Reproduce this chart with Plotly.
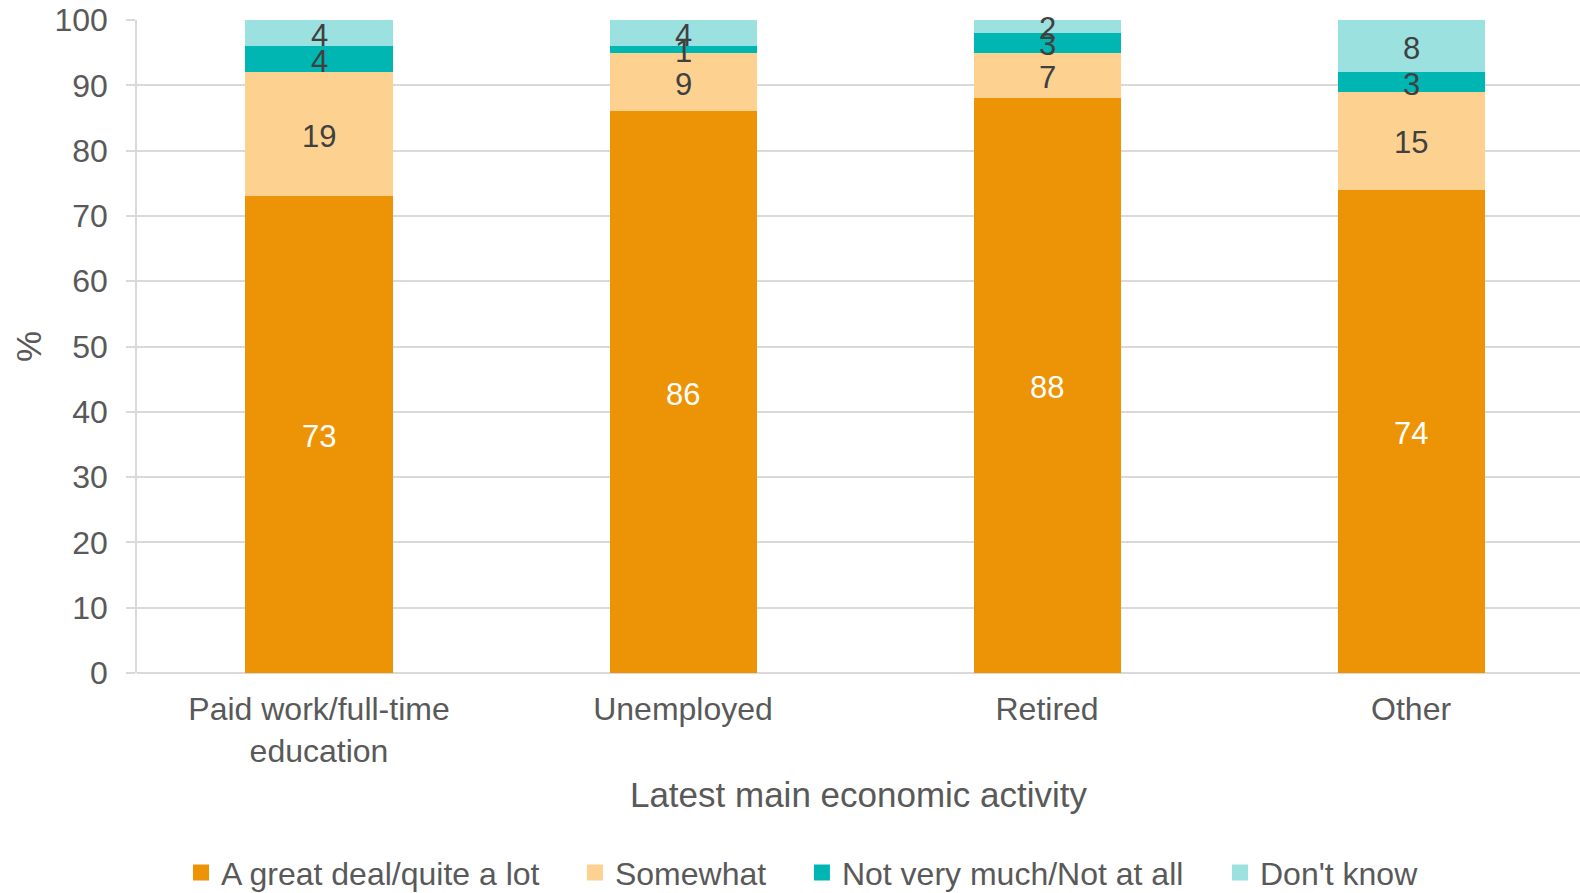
import plotly.graph_objects as go

# Survey responses by latest main economic activity (percent)
categories = ["Paid work/full-time<br>education", "Unemployed", "Retired", "Other"]
great_deal = [73, 86, 88, 74]
somewhat = [19, 9, 7, 15]
not_much = [4, 1, 3, 3]
dont_know = [4, 4, 2, 8]

series = [
    ("A great deal/quite a lot", great_deal, "#ED9306", "#FFFFFF"),
    ("Somewhat", somewhat, "#FDD291", "#404040"),
    ("Not very much/Not at all", not_much, "#00B6B2", "#404040"),
    ("Don't know", dont_know, "#9BE1E0", "#404040"),
]

FONT = "Arial, Liberation Sans, sans-serif"
GREY = "#595959"
GRID = "#D9D9D9"

# one legend per series so the entries can be spaced freely
legend_ids = ["legend", "legend2", "legend3", "legend4"]
legend_x = [0.0305, 0.3035, 0.4608, 0.7505]

fig = go.Figure()
base = [0] * len(categories)
annotations = []
for (name, vals, color, txt_color), lid in zip(series, legend_ids):
    fig.add_trace(go.Bar(
        name=name, x=categories, y=vals, marker_color=color,
        marker_line_width=0, width=0.404, showlegend=False,
    ))
    # square legend swatch for this series
    fig.add_trace(go.Scatter(
        name=name, x=[None], y=[None], mode="markers", legend=lid,
        marker=dict(symbol="square", size=16, color=color),
    ))
    # value labels centred in each stacked segment
    for i, v in enumerate(vals):
        annotations.append(dict(
            x=categories[i], y=base[i] + v / 2, xref="x", yref="y",
            text=str(v), showarrow=False, yshift=-2,
            font=dict(family=FONT, size=31, color=txt_color),
        ))
        base[i] += v

legend_style = dict(
    orientation="h", xanchor="left", y=-0.306, yanchor="middle",
    font=dict(family=FONT, size=32, color=GREY), bgcolor="rgba(0,0,0,0)",
)

fig.update_layout(
    barmode="stack",
    width=1580, height=893,
    margin=dict(l=137, r=0, t=20, b=220, autoexpand=False),
    plot_bgcolor="white", paper_bgcolor="white",
    font=dict(family=FONT, size=32, color=GREY),
    annotations=annotations,
    showlegend=True,
    legend=dict(x=legend_x[0], **legend_style),
    legend2=dict(x=legend_x[1], **legend_style),
    legend3=dict(x=legend_x[2], **legend_style),
    legend4=dict(x=legend_x[3], **legend_style),
    xaxis=dict(
        range=[-0.5, 3.464], showgrid=False, showline=False, zeroline=False,
        ticks="", tickfont=dict(size=32, color=GREY), ticklabelstandoff=14,
        title=dict(text="Latest main economic activity", standoff=14,
                   font=dict(size=35, color=GREY)),
    ),
    yaxis=dict(
        range=[0, 100], dtick=10, showgrid=True, gridcolor=GRID, gridwidth=1.5,
        showline=True, linecolor=GRID, linewidth=1.5, zeroline=True,
        zerolinecolor=GRID, zerolinewidth=1.5,
        ticks="outside", ticklen=9, tickcolor=GRID, tickwidth=1.5,
        tickfont=dict(size=32, color=GREY), ticklabelstandoff=12,
        title=dict(text="%", standoff=2, font=dict(size=35, color=GREY)),
    ),
)

fig.write_html("out.html")
